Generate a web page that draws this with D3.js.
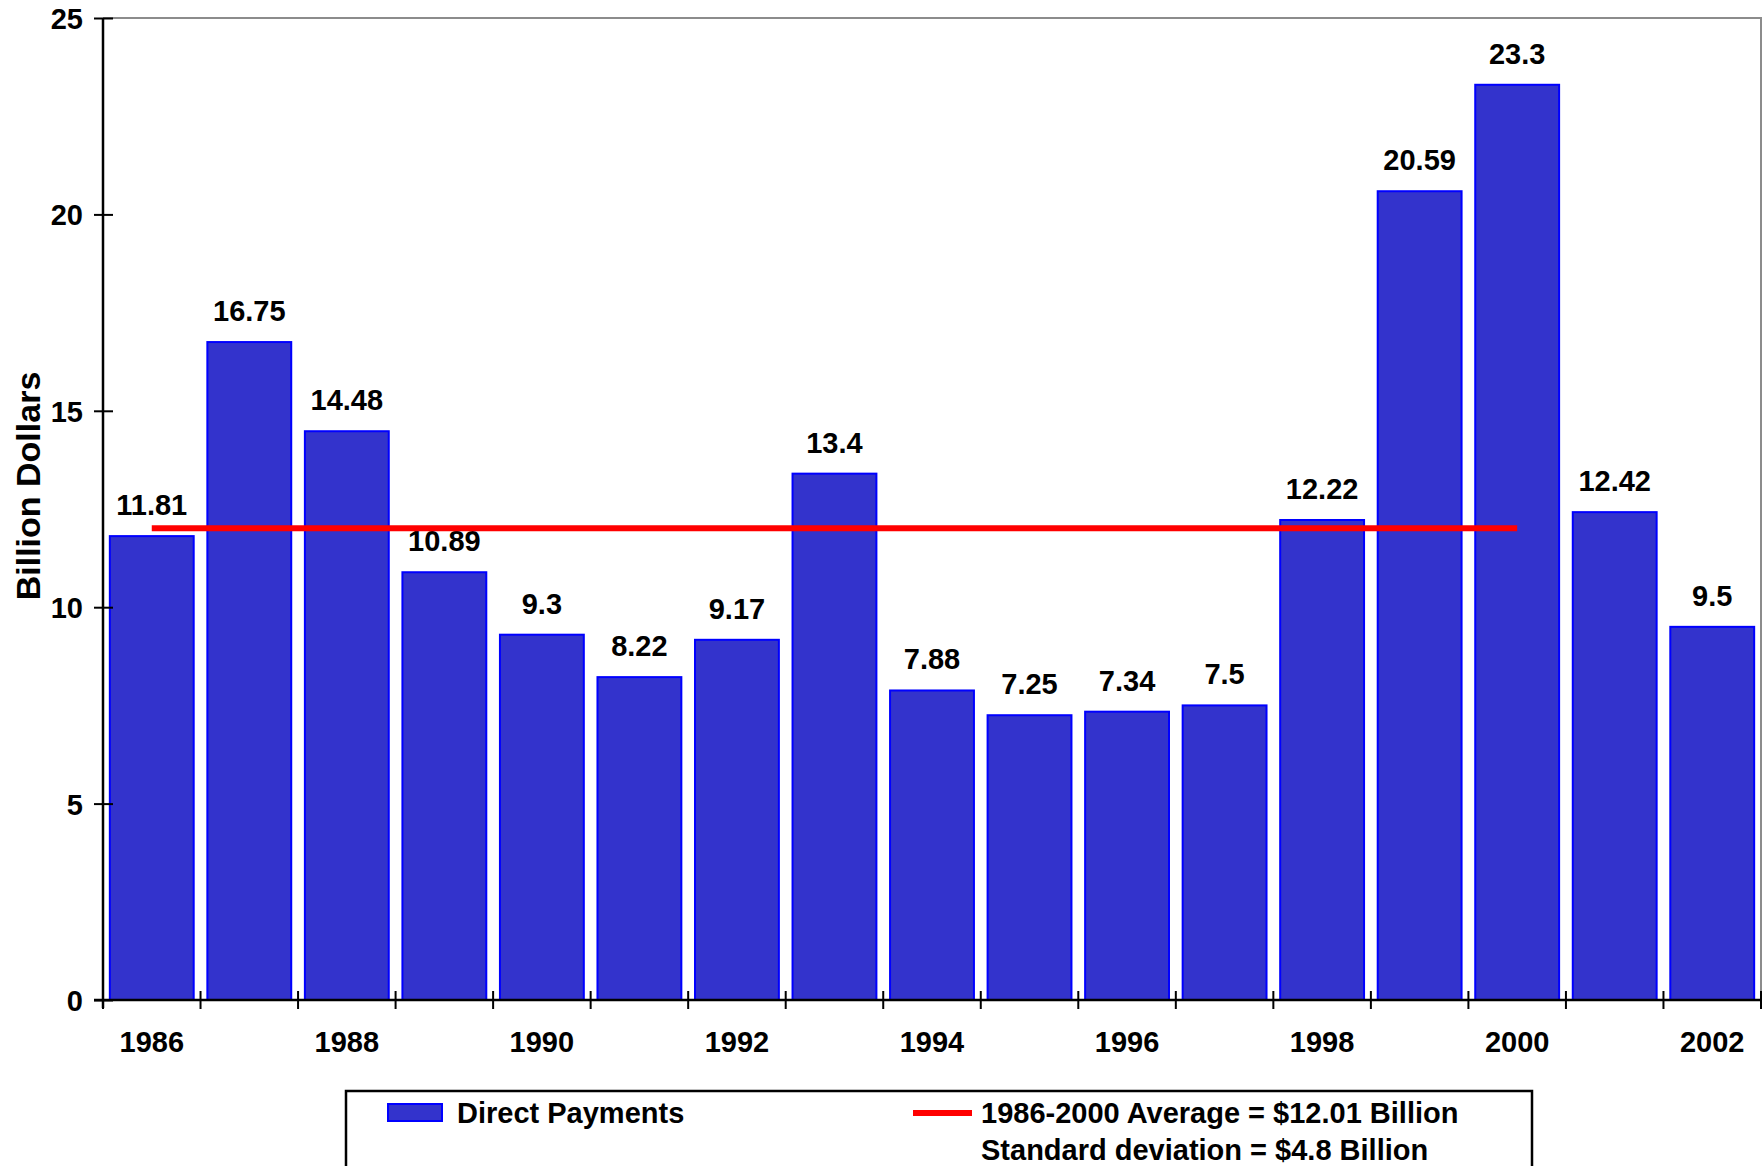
<!DOCTYPE html>
<html>
<head>
<meta charset="utf-8">
<script src="https://cdn.jsdelivr.net/npm/d3@7"></script>
<style>
  body { margin: 0; background: #fff; }
  svg text { font-family: "Liberation Sans", Arial, sans-serif; font-weight: bold; fill: #000; }
</style>
</head>
<body>
<svg id="chart"></svg>
<script>
var years = [1986, 1987, 1988, 1989, 1990, 1991, 1992, 1993, 1994, 1995, 1996, 1997, 1998, 1999, 2000, 2001, 2002];
var payments = [11.81, 16.75, 14.48, 10.89, 9.3, 8.22, 9.17, 13.4, 7.88, 7.25, 7.34, 7.5, 12.22, 20.59, 23.3, 12.42, 9.5];
var yTicks = [0, 5, 10, 15, 20, 25];
var xTickLabels = [1986, 1988, 1990, 1992, 1994, 1996, 1998, 2000, 2002];
var avgYears = [1986, 2000];
var avgValue = 12.01;
var legendLabels = ["Direct Payments", "1986-2000 Average = $12.01 Billion", "Standard deviation = $4.8 Billion"];

var W = 1762, H = 1166;
var plotLeft = 103, plotRight = 1761, plotTop = 18, plotBottom = 1000;
var fs = 29;

var svg = d3.select("#chart").attr("width", W).attr("height", H);

var x = d3.scaleBand()
  .domain(years)
  .range([plotLeft, plotRight])
  .paddingInner(0.14)
  .paddingOuter(0.07);

var y = d3.scaleLinear().domain([0, 25]).range([plotBottom, plotTop]);

// plot frame (top and right, grey)
svg.append("path")
  .attr("d", "M" + plotLeft + "," + plotTop + "H" + plotRight + "V" + plotBottom)
  .attr("fill", "none")
  .attr("stroke", "#8c8c8c")
  .attr("stroke-width", 2);

// bars
svg.selectAll("rect.bar")
  .data(years)
  .enter().append("rect")
  .attr("class", "bar")
  .attr("x", function(d) { return x(d); })
  .attr("width", x.bandwidth())
  .attr("y", function(d, i) { return y(payments[i]); })
  .attr("height", function(d, i) { return y(0) - y(payments[i]); })
  .attr("fill", "#3333cc")
  .attr("stroke", "#0000ff")
  .attr("stroke-width", 2);

// value labels
svg.selectAll("text.val")
  .data(years)
  .enter().append("text")
  .attr("class", "val")
  .attr("x", function(d) { return x(d) + x.bandwidth() / 2; })
  .attr("y", function(d, i) { return y(payments[i]) - 21; })
  .attr("text-anchor", "middle")
  .attr("font-size", fs)
  .text(function(d, i) { return payments[i]; });

// average line
svg.append("line")
  .attr("x1", x(avgYears[0]) + x.bandwidth() / 2)
  .attr("x2", x(avgYears[1]) + x.bandwidth() / 2)
  .attr("y1", y(avgValue))
  .attr("y2", y(avgValue))
  .attr("stroke", "#ff0000")
  .attr("stroke-width", 6);

// y axis
var yAxis = d3.axisLeft(y).tickValues(yTicks).tickSize(0).tickPadding(20);
var gy = svg.append("g").attr("transform", "translate(" + plotLeft + ",0)").call(yAxis);
gy.select(".domain").remove();
gy.selectAll("text").attr("font-size", fs).attr("font-family", null).attr("dy", "0.36em");
gy.selectAll(".tick").append("line")
  .attr("x1", -9).attr("x2", 10)
  .attr("stroke", "#000").attr("stroke-width", 2);
svg.append("line")
  .attr("x1", plotLeft).attr("x2", plotLeft).attr("y1", plotTop).attr("y2", plotBottom + 8)
  .attr("stroke", "#000").attr("stroke-width", 2.5);

// x axis
svg.append("line")
  .attr("x1", plotLeft - 9).attr("x2", plotRight).attr("y1", plotBottom).attr("y2", plotBottom)
  .attr("stroke", "#000").attr("stroke-width", 2.5);
var step = x.step();
var boundaries = years.map(function(d) { return x(d) - step * x.paddingInner() / 2; });
boundaries.push(plotRight);
svg.selectAll("line.xtick")
  .data(boundaries)
  .enter().append("line")
  .attr("class", "xtick")
  .attr("x1", function(d) { return d; })
  .attr("x2", function(d) { return d; })
  .attr("y1", plotBottom - 9).attr("y2", plotBottom + 9)
  .attr("stroke", "#000").attr("stroke-width", 2);
svg.selectAll("text.xlab")
  .data(xTickLabels)
  .enter().append("text")
  .attr("class", "xlab")
  .attr("x", function(d) { return x(d) + x.bandwidth() / 2; })
  .attr("y", 1052)
  .attr("text-anchor", "middle")
  .attr("font-size", fs)
  .text(function(d) { return d; });

// y title
svg.append("text")
  .attr("transform", "translate(40,486) rotate(-90)")
  .attr("text-anchor", "middle")
  .attr("font-size", 34)
  .text("Billion Dollars");

// legend
var lg = svg.append("g");
lg.append("rect")
  .attr("x", 346).attr("y", 1091).attr("width", 1186).attr("height", 100)
  .attr("fill", "#fff").attr("stroke", "#000").attr("stroke-width", 2.5);
lg.append("rect")
  .attr("x", 388).attr("y", 1104).attr("width", 54).attr("height", 17)
  .attr("fill", "#3333cc").attr("stroke", "#0000ff").attr("stroke-width", 2);
lg.append("text").attr("x", 457).attr("y", 1123).attr("font-size", fs).text(legendLabels[0]);
lg.append("line")
  .attr("x1", 913).attr("x2", 972).attr("y1", 1113).attr("y2", 1113)
  .attr("stroke", "#ff0000").attr("stroke-width", 6);
lg.append("text").attr("x", 981).attr("y", 1123).attr("font-size", fs).text(legendLabels[1]);
lg.append("text").attr("x", 981).attr("y", 1160).attr("font-size", fs).text(legendLabels[2]);
</script>
</body>
</html>
